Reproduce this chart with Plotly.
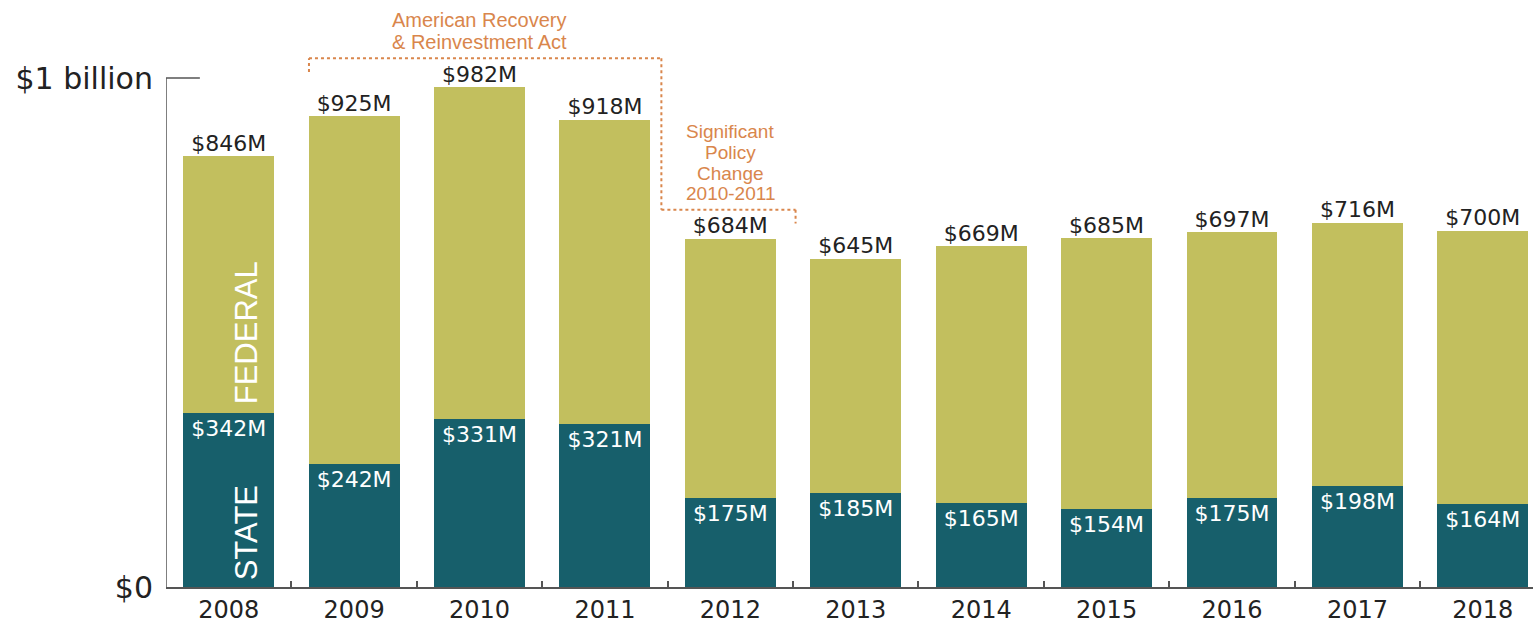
import plotly.graph_objects as go

years = ["2008", "2009", "2010", "2011", "2012", "2013", "2014", "2015", "2016", "2017", "2018"]
totals = [846, 925, 982, 918, 684, 645, 669, 685, 697, 716, 700]
state = [342, 242, 331, 321, 175, 185, 165, 154, 175, 198, 164]
federal = [t - s for t, s in zip(totals, state)]

arra_lines = ["American Recovery", "& Reinvestment Act"]
policy_lines = ["Significant", "Policy", "Change", "2010-2011"]

TEAL = "#175f6b"
OLIVE = "#c2bf5e"
ORANGE = "#d9864c"
DARK = "#222222"
GRAY = "#555555"
FONT = "DejaVu Sans"
ANN_FONT = "Liberation Sans"

fig = go.Figure()
fig.add_trace(go.Bar(
    x=years, y=state, marker=dict(color=TEAL, line=dict(width=0)),
    text=[f"${v}M" for v in state], textposition="inside", insidetextanchor="end",
    textangle=0, textfont=dict(family=FONT, size=22, color="white"),
    name="State", hoverinfo="skip"))
fig.add_trace(go.Bar(
    x=years, y=federal, marker=dict(color=OLIVE, line=dict(width=0)),
    name="Federal", hoverinfo="skip"))
fig.add_trace(go.Scatter(
    x=years, y=totals, mode="text", text=[f"${v}M" for v in totals],
    textposition="top center", textfont=dict(family=FONT, size=22, color=DARK),
    cliponaxis=False, hoverinfo="skip", showlegend=False))

dot = dict(color=ORANGE, width=2, dash="dot")
shapes = [
    dict(type="line", xref="x", yref="y", x0=-0.5, x1=-0.5, y0=0, y1=1000,
         line=dict(color=GRAY, width=1.5)),
    dict(type="line", xref="x", yref="y", x0=-0.5, x1=-0.23, y0=1000, y1=1000,
         line=dict(color=GRAY, width=1.5)),
    dict(type="line", xref="x", yref="y", x0=0.64, x1=0.64, y0=1012, y1=1039, line=dot),
    dict(type="line", xref="x", yref="y", x0=0.64, x1=3.45, y0=1039, y1=1039, line=dot),
    dict(type="line", xref="x", yref="y", x0=3.45, x1=3.45, y0=1039, y1=741, line=dot),
    dict(type="line", xref="x", yref="y", x0=3.45, x1=4.52, y0=741, y1=741, line=dot),
    dict(type="line", xref="x", yref="y", x0=4.52, x1=4.52, y0=741, y1=714, line=dot),
]

annotations = []
for txt, yv in zip(arra_lines, [1114, 1071]):
    annotations.append(dict(x=2.0, y=yv, xref="x", yref="y", showarrow=False, text=txt,
                            font=dict(family=ANN_FONT, size=20, color=ORANGE)))
for txt, yv in zip(policy_lines, [894, 853, 813, 774]):
    annotations.append(dict(x=4.0, y=yv, xref="x", yref="y", showarrow=False, text=txt,
                            font=dict(family=ANN_FONT, size=19, color=ORANGE)))
annotations += [
    dict(x=0.14, y=499, xref="x", yref="y", showarrow=False, textangle=-90,
         text="FEDERAL", font=dict(family="Liberation Sans", size=31, color="white")),
    dict(x=0.14, y=106, xref="x", yref="y", showarrow=False, textangle=-90,
         text="STATE", font=dict(family="Liberation Sans", size=31, color="white")),
]

fig.update_layout(
    width=1537, height=625,
    margin=dict(l=166, r=4, t=10, b=38, autoexpand=False),
    barmode="stack", bargap=0.275,
    plot_bgcolor="white", paper_bgcolor="white",
    showlegend=False,
    shapes=shapes, annotations=annotations,
    xaxis=dict(type="category", range=[-0.5, 10.4], automargin=False,
               showline=True, linecolor=GRAY, linewidth=1.5,
               tickson="boundaries", ticks="inside", ticklen=6, tickcolor=GRAY, tickwidth=1.5,
               showgrid=False, ticklabelstandoff=0,
               tickfont=dict(family=FONT, size=24, color=DARK)),
    yaxis=dict(range=[0, 1133.6], automargin=False, showgrid=False, zeroline=False, showline=False,
               tickvals=[0, 1000], ticktext=["$0", "$1 billion"], ticks="",
               ticklabelstandoff=12,
               tickfont=dict(family=FONT, size=30, color=DARK)),
)

fig.write_html("out.html", config={"displayModeBar": False},
               post_script="document.body.style.margin='0';document.body.style.overflow='hidden';")
